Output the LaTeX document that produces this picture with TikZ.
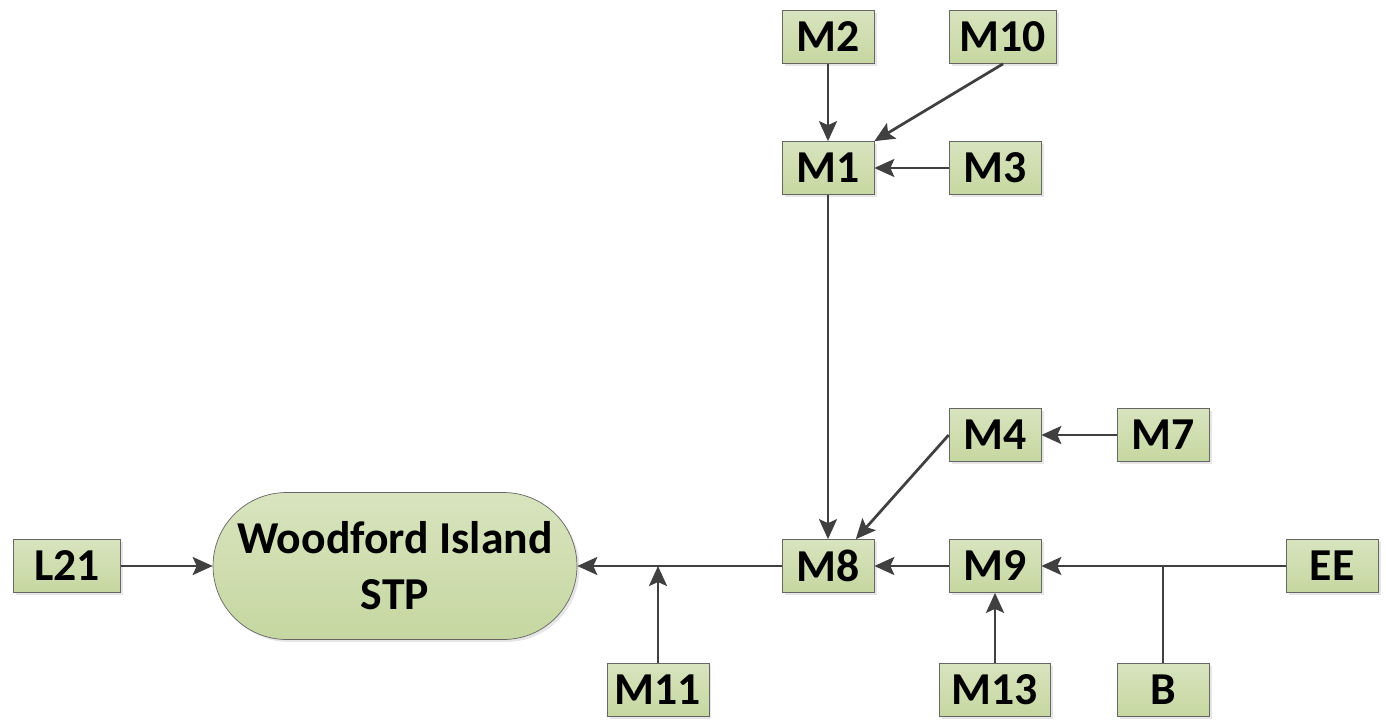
\documentclass[tikz,border=0pt]{standalone}
\usepackage{fontspec}
\setmainfont{Carlito}
\usetikzlibrary{arrows.meta,shadows,calc}
\definecolor{boxtop}{HTML}{D8E4BE}
\definecolor{boxbot}{HTML}{C6D7A1}
\definecolor{edge}{HTML}{404040}
\tikzset{site/.style={
    draw=gray!80!black, thin, top color=boxtop, bottom color=boxbot,
    drop shadow={shadow xshift=0.05cm, shadow yshift=-0.05cm, opacity=0.2},
    minimum width=1.84cm, minimum height=1.06cm, inner xsep=0.12cm,
    font=\fontsize{26}{32}\selectfont\bfseries
  },
  plant/.style={
    site, rounded corners=1.47cm, minimum width=7.28cm, minimum height=2.94cm,
    align=center
  },
  flow/.style={
    draw=edge, line width=0.055cm,
    -{Stealth[length=0.4cm, width=0.36cm, inset=0.08cm]}
  },
  feed/.style={draw=edge, line width=0.055cm}
}
\begin{document}
\begin{tikzpicture}[x=0.02cm, y=-0.02cm]
  \useasboundingbox (0,0) rectangle (1386,720);
  % sites
  \node[site] (M2)  at (828,37)   {M2};
  \node[site, minimum width=2.14cm] (M10) at (1003,37) {M10};
  \node[site] (M1)  at (828,168)  {M1};
  \node[site] (M3)  at (995,168)  {M3};
  \node[site] (M4)  at (995,435)  {M4};
  \node[site] (M7)  at (1163,435) {M7};
  \node[site] (M8)  at (828,566)  {M8};
  \node[site] (M9)  at (995,566)  {M9};
  \node[site] (EE)  at (1332,566) {EE};
  \node[site, minimum width=2.22cm] (M13) at (995,690) {M13};
  \node[site] (B)   at (1163,690) {B};
  \node[site, minimum width=2.04cm] (M11) at (658,690) {M11};
  \node[site, minimum width=2.14cm] (L21) at (67,566) {L21};
  \node[plant] (STP) at (395,566) {Woodford Island\\STP};
  % junctions
  \coordinate (jB)   at (B |- EE);
  \coordinate (jM11) at (M11 |- M8);
  % flows
  \draw[flow] (M2) -- (M1);
  \draw[flow] (M10.south) -- (M1.north east);
  \draw[flow] (M3) -- (M1);
  \draw[flow] (M1) -- (M8);
  \draw[flow] (M7) -- (M4);
  \draw[flow] (M4.west) -- ($(M8.north)!0.6!(M8.north east)$);
  \draw[flow] (EE) -- (M9);
  \draw[feed] (B) -- (jB);
  \draw[flow] (M13) -- (M9);
  \draw[flow] (M9) -- (M8);
  \draw[flow] (M8) -- (STP);
  \draw[flow] (M11) -- (jM11);
  \draw[flow] (L21) -- (STP);
\end{tikzpicture}
\end{document}
